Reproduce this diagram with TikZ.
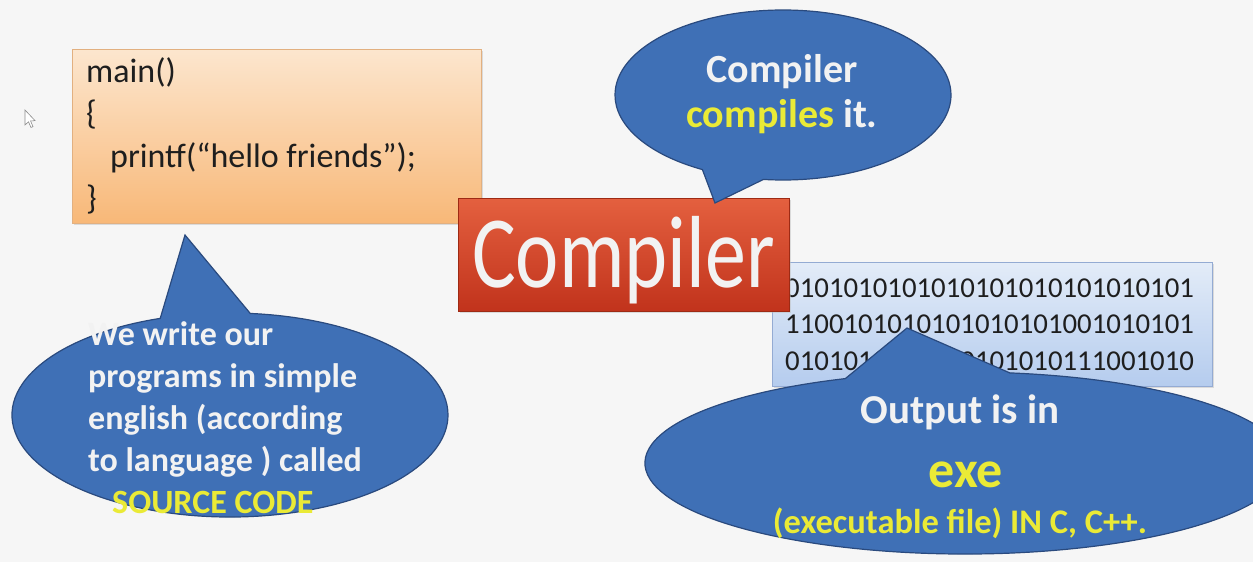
\documentclass[tikz,border=0pt]{standalone}
\usepackage{fontspec}
\setmainfont{Carlito}
\usetikzlibrary{shapes.callouts,shadows}
\definecolor{bg}{HTML}{F6F6F6}
\definecolor{calloutblue}{HTML}{3F70B6}
\definecolor{calloutedge}{HTML}{2A4A7E}
\definecolor{txtyellow}{HTML}{EAEA36}
\definecolor{txtwhite}{HTML}{F2F2F2}
\definecolor{codeink}{HTML}{1E1E1E}
\definecolor{orangetop}{HTML}{FCE6CE}
\definecolor{orangebot}{HTML}{F8B878}
\definecolor{orangeedge}{HTML}{E2B080}
\definecolor{redtop}{HTML}{E4603F}
\definecolor{redbot}{HTML}{C1331C}
\definecolor{rededge}{HTML}{9E2A14}
\definecolor{bluetop}{HTML}{E3ECF8}
\definecolor{bluebot}{HTML}{B5CCEE}
\definecolor{blueedge}{HTML}{94ABD3}
\tikzset{
  bubble/.style={ellipse callout, fill=calloutblue, draw=calloutedge, line width=1.2pt,
    inner sep=0pt, outer sep=0pt, callout pointer arc=22},
  panel/.style={rectangle, inner sep=0pt, outer sep=0pt, line width=0.8pt,
    drop shadow={shadow xshift=2pt, shadow yshift=-2pt, fill=black!25, opacity=0.5}},
  codetext/.style={anchor=base west, inner sep=0pt, text=codeink,
    font=\fontsize{34}{40}\selectfont},
  bintext/.style={anchor=base west, inner sep=0pt, text=codeink,
    font=\fontsize{28.8}{34}\selectfont},
  leftbubbletext/.style={anchor=base west, inner sep=0pt, text=txtwhite,
    font=\bfseries\fontsize{34}{40}\selectfont},
  centertext/.style={anchor=base, inner sep=0pt, text=txtwhite},
}
\begin{document}
\begin{tikzpicture}[x=1pt,y=-1pt]
\useasboundingbox[fill=bg] (0,0) rectangle (1253,562);
% mouse cursor
\draw[black!45, fill=white, line width=0.6pt] (25,110) -- (25,125) -- (28.5,121.8) -- (31,127.5) -- (33,126.6) -- (30.6,121) -- (35,120.6) -- cycle;
% source code box
\node[panel, top color=orangetop, bottom color=orangebot, draw=orangeedge,
  minimum width=409pt, minimum height=174pt] (code) at (276.5,136) {};
\node[codetext] (c1) at (86,82) {main()};
\node[codetext] (c2) at (86,124.5) {\{};
\node[codetext] (c3) at (110,167) {printf(“hello friends”);};
\node[codetext] (c4) at (86,209.5) {\}};
% left callout
\coordinate (lefttip) at (185,235);
\node[bubble, minimum width=436pt, minimum height=204pt,
  callout absolute pointer={(lefttip)}, callout pointer arc=24] (leftcall) at (230,415) {};
\node[leftbubbletext] (l1) at (88,345) {We write our};
\node[leftbubbletext] (l2) at (88,387) {programs in simple};
\node[leftbubbletext] (l3) at (88,429) {english (according};
\node[leftbubbletext] (l4) at (88,471) {to language ) called};
\node[leftbubbletext, text=txtyellow] (l5) at (112,513) {SOURCE CODE};
% binary output box
\node[panel, top color=bluetop, bottom color=bluebot, draw=blueedge,
  minimum width=440pt, minimum height=124pt] (bin) at (992,324) {};
\node[bintext] (b1) at (785,297) {0101010101010101010101010101};
\node[bintext] (b2) at (785,333) {1100101010101010101001010101};
\node[bintext] (b3) at (785,370) {0101010101010101010111001010};
% compiler box
\node[panel, top color=redtop, bottom color=redbot, draw=rededge,
  minimum width=331pt, minimum height=113pt] (comp) at (623.5,254.5) {};
\node[centertext, font=\fontsize{82}{90}\selectfont] (comptext) at (623.5,287)
  {\scalebox{1}[1.25]{Compiler}};
% top callout
\coordinate (toptip) at (715,203);
\node[bubble, minimum width=336pt, minimum height=170pt,
  callout absolute pointer={(toptip)}] (topcall) at (783,95) {};
\node[centertext, font=\bfseries\fontsize{40}{46}\selectfont] (t1) at (782,82) {Compiler};
\node[centertext, font=\bfseries\fontsize{40}{46}\selectfont] (t2) at (782,127)
  {\textcolor{txtyellow}{compiles} it.};
% bottom-right callout
\coordinate (bintip) at (907,328);
\node[bubble, minimum width=640pt, minimum height=182pt,
  callout absolute pointer={(bintip)}, callout pointer arc=30] (outcall) at (965,463) {};
\node[centertext, font=\bfseries\fontsize{41}{46}\selectfont] (o1) at (960,423) {Output is in};
\node[centertext, text=txtyellow, font=\bfseries\fontsize{52}{58}\selectfont] (o2) at (966,487) {exe};
\node[centertext, text=txtyellow, font=\bfseries\fontsize{34.5}{40}\selectfont] (o3) at (960,533)
  {(executable file) IN C, C++.};
\end{tikzpicture}
\end{document}
